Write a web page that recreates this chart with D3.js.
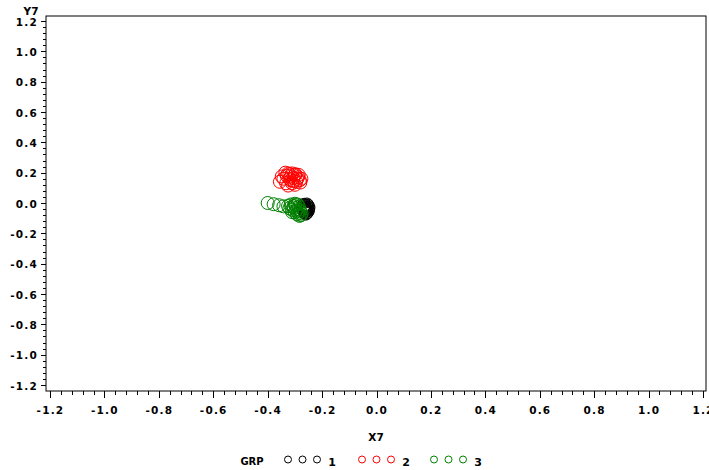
<!DOCTYPE html>
<html><head><meta charset="utf-8">
<script src="https://cdn.jsdelivr.net/npm/d3@7"></script>
<style>body{margin:0;background:#fff}svg{display:block}text{font-family:"DejaVu Sans",Arial,sans-serif;font-weight:bold}</style>
</head><body>
<svg id="c" width="709" height="470"></svg>
<script>
const xTicks = [-1.2,-1.0,-0.8,-0.6,-0.4,-0.2,0.0,0.2,0.4,0.6,0.8,1.0,1.2];
const yTicks = [-1.2,-1.0,-0.8,-0.6,-0.4,-0.2,0.0,0.2,0.4,0.6,0.8,1.0,1.2];
const groups = ["1","2","3"];
const groupColors = ["#000000","#ff0000","#008000"];
// group 1 (black)
const g1x = [-0.268,-0.262,-0.256,-0.252,-0.260,-0.264,-0.250,-0.258,-0.262,-0.255,-0.270,-0.252,-0.260,-0.266,-0.256,-0.261,-0.253,-0.265,-0.259,-0.257];
const g1y = [-0.020,-0.030,-0.010,-0.040,-0.050,-0.060,-0.030,-0.020,-0.040,-0.060,-0.035,-0.050,-0.070,-0.012,-0.028,-0.055,-0.018,-0.045,-0.065,-0.040];
// group 2 (red)
const g2x = [-0.355,-0.342,-0.330,-0.320,-0.310,-0.300,-0.288,-0.282,-0.276,-0.332,-0.315,-0.305,-0.295,-0.348,-0.325,-0.310,-0.300,-0.286,-0.320,-0.335,-0.305,-0.292,-0.315,-0.280,-0.325,-0.298];
const g2y = [0.140,0.160,0.180,0.190,0.195,0.185,0.170,0.150,0.160,0.130,0.150,0.165,0.140,0.175,0.195,0.130,0.120,0.185,0.160,0.200,0.145,0.160,0.175,0.135,0.115,0.190];
// group 3 (green)
const g3x = [-0.400,-0.378,-0.358,-0.342,-0.325,-0.315,-0.305,-0.298,-0.290,-0.285,-0.280,-0.275,-0.310,-0.300,-0.292,-0.283,-0.320,-0.305,-0.295,-0.288,-0.278,-0.300,-0.310,-0.290,-0.283];
const g3y = [0.000,-0.008,-0.015,-0.022,-0.020,-0.010,-0.030,-0.015,-0.040,-0.025,-0.055,-0.070,-0.045,-0.060,-0.075,-0.085,-0.035,-0.020,-0.050,-0.065,-0.080,-0.005,-0.060,-0.010,-0.045];

const svg = d3.select("#c");
const x = d3.scaleLinear().domain([-1.2,1.2]).range([50,703]);
const y = d3.scaleLinear().domain([-1.2,1.2]).range([385,21]);
const frame = {l:46,t:16,r:706,b:391};

svg.append("rect").attr("x",frame.l).attr("y",frame.t).attr("width",frame.r-frame.l).attr("height",frame.b-frame.t)
  .attr("fill","none").attr("stroke","#000").attr("stroke-width",1);

const minor = d3.range(-1.2,1.2001,0.04).map(v=>+v.toFixed(2));
// x axis
const xa = svg.append("g").attr("transform",`translate(0.5,${frame.b})`);
xa.selectAll("line.mn").data(minor).join("line").attr("x1",d=>Math.round(x(d))).attr("x2",d=>Math.round(x(d))).attr("y1",0).attr("y2",4).attr("stroke","#000");
xa.selectAll("line.mj").data(xTicks).join("line").attr("x1",d=>Math.round(x(d))).attr("x2",d=>Math.round(x(d))).attr("y1",0).attr("y2",7).attr("stroke","#000");
xa.selectAll("text").data(xTicks).join("text").attr("x",d=>x(d)).attr("y",23).attr("text-anchor","middle")
  .attr("font-size",10.5).attr("letter-spacing","1.2px").text(d=>d3.format(".1f")(d).replace("−","-"));
// y axis
const ya = svg.append("g").attr("transform",`translate(${frame.l},0.5)`);
ya.selectAll("line.mn").data(minor).join("line").attr("y1",d=>Math.round(y(d))).attr("y2",d=>Math.round(y(d))).attr("x1",0).attr("x2",-3).attr("stroke","#000");
ya.selectAll("line.mj").data(yTicks).join("line").attr("y1",d=>Math.round(y(d))).attr("y2",d=>Math.round(y(d))).attr("x1",0).attr("x2",-5).attr("stroke","#000");
ya.selectAll("text").data(yTicks).join("text").attr("x",-8).attr("y",d=>y(d)+4).attr("text-anchor","end")
  .attr("font-size",10.5).attr("letter-spacing","1.2px").text(d=>d3.format(".1f")(d).replace("−","-"));

svg.append("text").attr("x",31).attr("y",15).attr("text-anchor","middle").attr("font-size",10.5).text("Y7");
svg.append("text").attr("x",376).attr("y",441).attr("text-anchor","middle").attr("font-size",10.5).text("X7");

const data = [[g1x,g1y],[g2x,g2y],[g3x,g3y]];
data.forEach(([xs,ys],gi)=>{
  svg.append("g").selectAll("circle").data(xs.map((v,i)=>[v,ys[i]])).join("circle")
    .attr("cx",d=>x(d[0])).attr("cy",d=>y(d[1])).attr("r",6.5)
    .attr("fill","none").attr("stroke",groupColors[gi]).attr("stroke-width",1);
});

// legend
const lg = svg.append("g");
lg.append("text").attr("x",252).attr("y",465).attr("text-anchor","middle").attr("font-size",10).attr("font-weight","normal").text("GRP");
const lx0 = [288,362,434];
groups.forEach((g,i)=>{
  [0,14.5,29].forEach(dx=>{
    lg.append("circle").attr("cx",lx0[i]+dx).attr("cy",459.5).attr("r",3.5).attr("fill","none").attr("stroke",groupColors[i]);
  });
  lg.append("text").attr("x",lx0[i]+44).attr("y",466).attr("text-anchor","middle").attr("font-size",11).text(g);
});
</script>
</body></html>
